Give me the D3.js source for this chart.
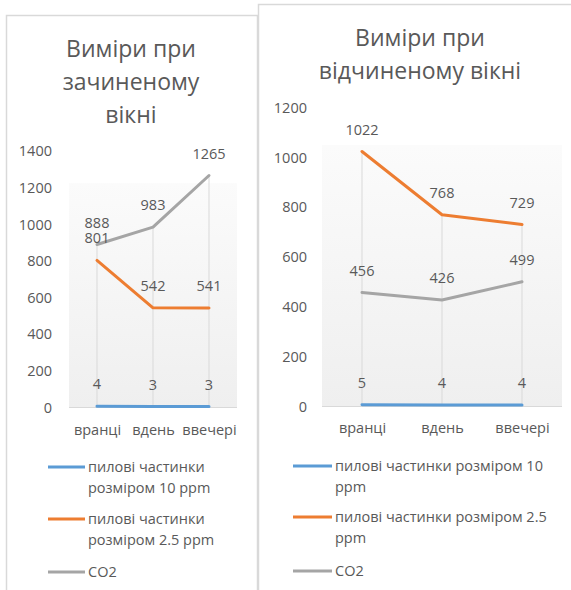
<!DOCTYPE html>
<html>
<head>
<meta charset="utf-8">
<script src="https://cdn.jsdelivr.net/npm/d3@7"></script>
<style>
  html, body { margin: 0; padding: 0; background: #fff; }
  svg { display: block; }
  text { font-family: "Open Sans", "Noto Sans", sans-serif; fill: #595959; }
</style>
</head>
<body>
<svg id="chart" width="571" height="590"></svg>
<script>
// ---- data ----
const categories = ["вранці", "вдень", "ввечері"];
const seriesNames = ["пилові частинки розміром 10 ppm", "пилові частинки розміром 2.5 ppm", "CO2"];
const closedPM10 = [4, 3, 3];
const closedPM25 = [801, 542, 541];
const closedCO2  = [888, 983, 1265];
const openPM10 = [5, 4, 4];
const openPM25 = [1022, 768, 729];
const openCO2  = [456, 426, 499];
const closedTicks = [0, 200, 400, 600, 800, 1000, 1200, 1400];
const openTicks = [0, 200, 400, 600, 800, 1000, 1200];
const closedTitle = ["Виміри при", "зачиненому", "вікні"];
const openTitle = ["Виміри при", "відчиненому вікні"];
const closedLegend = [["пилові частинки", "розміром 10 ppm"], ["пилові частинки", "розміром 2.5 ppm"], ["CO2"]];
const openLegend = [["пилові частинки розміром 10", "ppm"], ["пилові частинки розміром 2.5", "ppm"], ["CO2"]];
const colors = ["#5B9BD5", "#ED7D31", "#A5A5A5"];

const svg = d3.select("#chart");
const defs = svg.append("defs");

function drawChart(cfg) {
  const g = svg.append("g");
  // chart border
  g.append("rect")
    .attr("x", cfg.box[0] + 0.5).attr("y", cfg.box[1] + 0.5)
    .attr("width", cfg.box[2]).attr("height", cfg.box[3])
    .attr("fill", "#fff").attr("stroke", "#d9d9d9").attr("stroke-width", 1.5);

  // title
  const t = g.append("text").attr("text-anchor", "middle")
    .style("font-size", "23px");
  cfg.title.forEach((line, i) => {
    t.append("tspan").attr("x", cfg.titleX).attr("y", cfg.titleY + i * 33)
      .attr("dominant-baseline", "central").text(line);
  });

  const x = d3.scalePoint().domain(categories).range(cfg.xr).padding(0.5);
  const y = d3.scaleLinear().domain([0, cfg.max]).range(cfg.yr);

  // gradient plot background
  const gid = "grad" + cfg.id;
  const grad = defs.append("linearGradient").attr("id", gid)
    .attr("x1", 0).attr("y1", 0).attr("x2", 0).attr("y2", 1);
  grad.append("stop").attr("offset", "0").attr("stop-color", "#ffffff");
  grad.append("stop").attr("offset", "0.125").attr("stop-color", "#ffffff");
  grad.append("stop").attr("offset", "0.128").attr("stop-color", "#fbfbfb");
  grad.append("stop").attr("offset", "1").attr("stop-color", "#efefef");
  g.append("rect")
    .attr("x", cfg.xr[0]).attr("y", y(cfg.max))
    .attr("width", cfg.xr[1] - cfg.xr[0]).attr("height", y(0) - y(cfg.max))
    .attr("fill", `url(#${gid})`);

  const series = cfg.series;
  // drop lines
  categories.forEach((c, i) => {
    const m = d3.max(series, s => s[i]);
    g.append("line")
      .attr("x1", x(c)).attr("x2", x(c))
      .attr("y1", y(m)).attr("y2", y(0))
      .attr("stroke", "#d9d9d9").attr("stroke-width", 1);
  });
  // category axis line
  g.append("line")
    .attr("x1", cfg.xr[0]).attr("x2", cfg.xr[1])
    .attr("y1", y(0) + 0.5).attr("y2", y(0) + 0.5)
    .attr("stroke", "#d9d9d9").attr("stroke-width", 1);

  // y axis labels
  const ya = g.append("g").attr("transform", `translate(${cfg.yLabelX},0)`)
    .call(d3.axisLeft(y).tickValues(cfg.ticks).tickFormat(d3.format("d"))
      .tickSize(0).tickPadding(0));
  ya.select(".domain").remove();
  ya.selectAll("text").style("font-size", "14.5px").attr("fill", "#595959")
    .attr("font-family", null).attr("dy", "0.35em");

  // x axis labels
  const xa = g.append("g").attr("transform", `translate(0,${cfg.xLabelY})`)
    .call(d3.axisBottom(x).tickSize(0).tickPadding(0));
  xa.select(".domain").remove();
  xa.selectAll("text").style("font-size", "14.5px").attr("fill", "#595959")
    .attr("font-family", null).attr("dy", "0.35em");

  // lines
  const line = d3.line().x((d, i) => x(categories[i])).y(d => y(d));
  series.forEach((s, k) => {
    g.append("path").datum(s).attr("d", line)
      .attr("fill", "none").attr("stroke", colors[k]).attr("stroke-width", 3)
      .attr("stroke-linecap", "round").attr("stroke-linejoin", "round");
  });
  // data labels
  series.forEach((s, k) => {
    g.selectAll(null).data(s).enter().append("text")
      .attr("x", (d, i) => x(categories[i]))
      .attr("y", d => y(d) - 22)
      .attr("dy", "0.35em")
      .attr("text-anchor", "middle")
      .style("font-size", "14.5px")
      .text(d => d);
  });

  // legend
  cfg.legend.forEach((lines, k) => {
    const ly = cfg.legendY[k];
    g.append("line")
      .attr("x1", cfg.legendX[0]).attr("x2", cfg.legendX[1])
      .attr("y1", ly).attr("y2", ly)
      .attr("stroke", colors[k]).attr("stroke-width", 3);
    const tt = g.append("text").style("font-size", "14.5px");
    lines.forEach((ln, j) => {
      tt.append("tspan").attr("x", cfg.legendX[1] + 3).attr("y", ly + j * 21)
        .attr("dy", "0.35em").text(ln);
    });
  });
}

drawChart({
  id: "closed",
  box: [6, 15, 251, 590],
  title: closedTitle, titleX: 131, titleY: 48,
  xr: [69, 237], yr: [407, 150.8], max: 1400, ticks: closedTicks,
  yLabelX: 52, xLabelY: 430,
  series: [closedPM10, closedPM25, closedCO2],
  legend: closedLegend, legendX: [48, 85], legendY: [467, 519, 572]
});
drawChart({
  id: "open",
  box: [258, 4, 330, 600],
  title: openTitle, titleX: 420, titleY: 37,
  xr: [322, 562], yr: [406, 107.2], max: 1200, ticks: openTicks,
  yLabelX: 307, xLabelY: 428,
  series: [openPM10, openPM25, openCO2],
  legend: openLegend, legendX: [293, 332], legendY: [466, 517, 571]
});
</script>
</body>
</html>
